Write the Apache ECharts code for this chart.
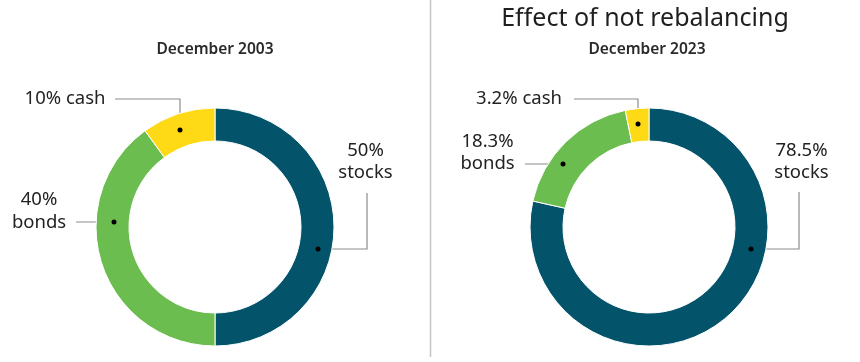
<!DOCTYPE html>
<html>
<head>
<meta charset="utf-8">
<script src="https://cdn.jsdelivr.net/npm/echarts@6/dist/echarts.min.js"></script>
<style>
html,body{margin:0;padding:0;background:#fff;}
#chart{width:860px;height:362px;}
</style>
</head>
<body>
<div id="chart"></div>
<script>
// ---- data ----
const categories = ['stocks', 'bonds', 'cash'];
const values2003 = [50, 40, 10];
const values2023 = [78.5, 18.3, 3.2];
const periodLabels = ['December 2003', 'December 2023'];
const mainTitle = 'Effect of not rebalancing';

// ---- style / layout ----
const colors = ['#03536b', '#6cbd4f', '#fdd916'];
const FONT = '"Noto Sans", "Open Sans", sans-serif';
const centers = [[215, 227], [649, 227]];
const radius = [86, 119];
// label placement relative to pie center: label center, then leader line points (label end -> ... -> anchor on ring)
const labelPlacement = [
  [ // 2003
    { label: [150.5, -65.5], line: [[152, -34], [152, 22], [103, 22]] },
    { label: [-176, -16], line: [[-139, -5], [-120, -5], [-101, -5]] },
    { label: [-150, -128], line: [[-100, -128], [-35, -128], [-35, -97]] }
  ],
  [ // 2023
    { label: [152.5, -65.5], line: [[150, -35], [150, 22], [102, 22]] },
    { label: [-161.5, -74.5], line: [[-124, -63], [-105, -63], [-86, -63]] },
    { label: [-130, -128], line: [[-75, -128], [-11, -128], [-11, -103]] }
  ]
];

const chart = echarts.init(document.getElementById('chart'), null, { renderer: 'canvas' });

function makeSeries(values, si) {
  return {
    type: 'pie',
    center: centers[si],
    radius: radius,
    startAngle: 90,
    clockwise: true,
    avoidLabelOverlap: false,
    silent: true,
    itemStyle: { borderColor: '#ffffff', borderWidth: 1 },
    label: {
      show: true,
      fontFamily: FONT,
      fontSize: 18.5,
      lineHeight: 22.5,
      color: '#222222',
      align: 'center',
      formatter: function (p) {
        return p.dataIndex === 2 ? p.value + '% ' + p.name : p.value + '%\n' + p.name;
      }
    },
    labelLine: { show: true, lineStyle: { color: '#8c8c8c', width: 1.2 } },
    labelLayout: function (params) {
      const pl = labelPlacement[si][params.dataIndex];
      const c = centers[si];
      return {
        x: c[0] + pl.label[0],
        y: c[1] + pl.label[1],
        align: 'center',
        verticalAlign: 'middle',
        labelLinePoints: pl.line.slice().reverse().map(function (pt) { return [c[0] + pt[0], c[1] + pt[1]]; })
      };
    },
    data: categories.map(function (name, i) {
      return { name: name, value: values[i], itemStyle: { color: colors[i] } };
    })
  };
}

const dots = [];
labelPlacement.forEach(function (set, si) {
  set.forEach(function (pl) {
    const end = pl.line[pl.line.length - 1];
    dots.push({
      type: 'circle',
      shape: { cx: centers[si][0] + end[0], cy: centers[si][1] + end[1], r: 2.5 },
      style: { fill: '#000' },
      z: 100
    });
  });
});

chart.setOption({
  animation: false,
  title: [
    { text: mainTitle, left: 640, top: 1, textAlign: 'center',
      textStyle: { fontFamily: FONT, fontSize: 25, fontWeight: 'normal', color: '#1f1f1f' } },
    { text: periodLabels[0], left: 210, top: 37, textAlign: 'center',
      textStyle: { fontFamily: FONT, fontSize: 15.5, fontWeight: 600, color: '#2a2a2a' } },
    { text: periodLabels[1], left: 642, top: 37, textAlign: 'center',
      textStyle: { fontFamily: FONT, fontSize: 15.5, fontWeight: 600, color: '#2a2a2a' } }
  ],
  graphic: [
    { type: 'line', shape: { x1: 430.5, y1: 0, x2: 430.5, y2: 357 },
      style: { stroke: '#c4c4c4', lineWidth: 1.5 } }
  ].concat(dots),
  series: [makeSeries(values2003, 0), makeSeries(values2023, 1)]
});
</script>
</body>
</html>
